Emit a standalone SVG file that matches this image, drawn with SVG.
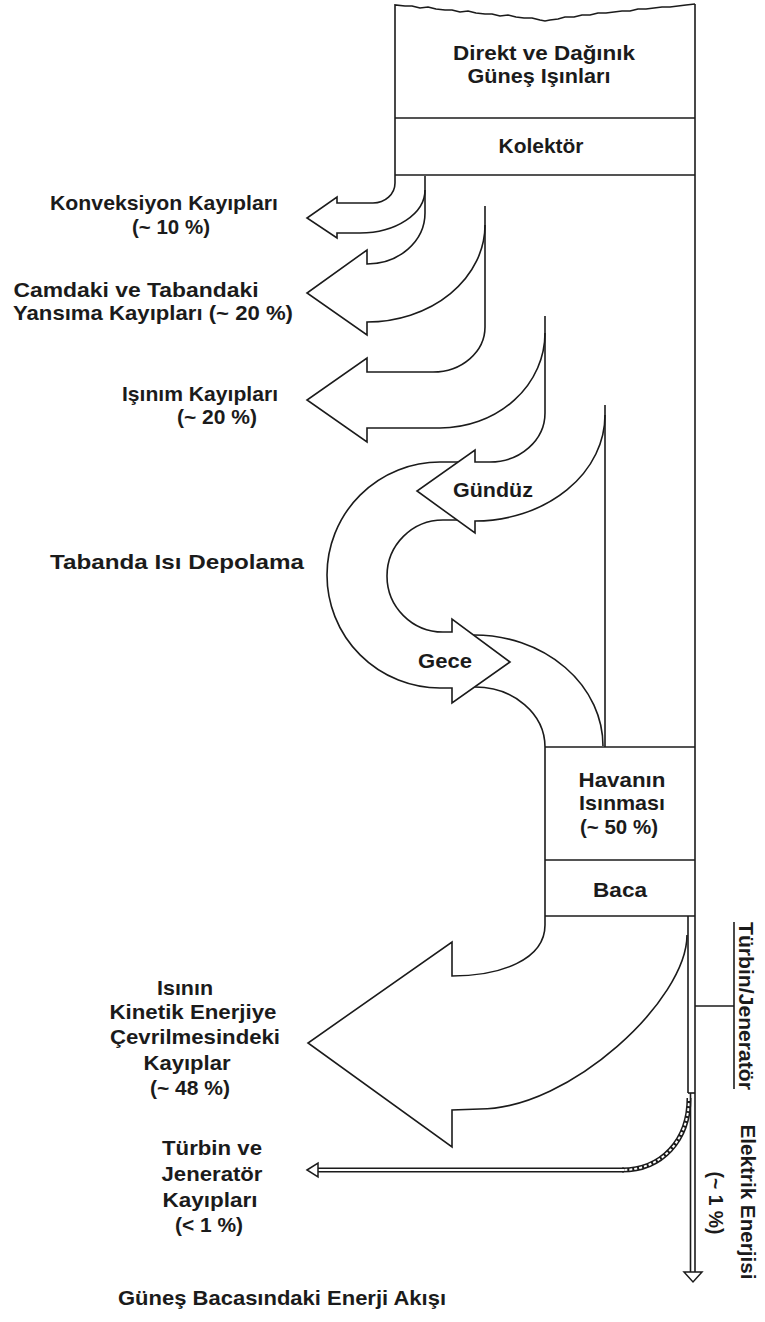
<svg xmlns="http://www.w3.org/2000/svg" width="765" height="1322" viewBox="0 0 765 1322">
<style>
.ln{fill:none;stroke:#1b1b1b;stroke-width:1.6;stroke-linejoin:miter}
.ar{fill:none;stroke:#1b1b1b;stroke-width:1.6;stroke-linejoin:miter}
.t{font-family:"Liberation Sans",Arial,sans-serif;font-weight:bold;font-size:21px;fill:#1b1b1b;text-anchor:middle}
</style>
<rect width="765" height="1322" fill="#fff"/>
<g id="solar-input">
<polyline class="ln" points="395,175 395,5 405,6 412,6 420,8 428,7 436,9 445,10 452,10 460,12 468,11 476,13 485,14 492,14 500,16 508,15 516,17 524,18 532,18 540,20 545,21 550,20 558,19 565,17 574,17 582,15 590,15 598,13 606,13 614,12 622,11 630,11 638,9 646,9 654,8 662,7 670,7 678,6 686,5 695,4"/>
<line class="ln" x1="395" y1="118" x2="695" y2="118"/>
<text class="t" x="544" y="60" textLength="182" lengthAdjust="spacingAndGlyphs">Direkt ve Dağınık</text>
<text class="t" x="539" y="83" textLength="143" lengthAdjust="spacingAndGlyphs">Güneş Işınları</text>
</g>
<g id="collector">
<line class="ln" x1="395" y1="175" x2="695" y2="175"/>
<text class="t" x="541" y="153" textLength="85" lengthAdjust="spacingAndGlyphs">Kolektör</text>
</g>
<g id="loss-convection">
<path class="ar" d="M395,175 L395,183 A22,20 0 0 1 373,203 L337,203 L337,197 L307,218 L337,238 L337,233 L360,233 A65,43 0 0 0 425,190"/>
<text class="t" x="164" y="210" textLength="228" lengthAdjust="spacingAndGlyphs">Konveksiyon Kayıpları</text>
<text class="t" x="171" y="234" textLength="78" lengthAdjust="spacingAndGlyphs">(~ 10 %)</text>
</g>
<g id="loss-reflection">
<path class="ar" d="M425,213 A58,51 0 0 1 367,264 L367,250 L307,293 L367,335 L367,322 A118,97 0 0 0 485,225"/>
<text class="t" x="136" y="297" textLength="245" lengthAdjust="spacingAndGlyphs">Camdaki ve Tabandaki</text>
<text class="t" x="153" y="320" textLength="280" lengthAdjust="spacingAndGlyphs">Yansıma Kayıpları (~ 20 %)</text>
</g>
<g id="loss-radiation">
<path class="ar" d="M485,327 A52,45 0 0 1 433,372 L367,372 L367,358 L307,400 L367,442 L367,428 L440,428 A105,95 0 0 0 545,333"/>
<text class="t" x="200" y="401" textLength="156" lengthAdjust="spacingAndGlyphs">Işınım Kayıpları</text>
<text class="t" x="217" y="424" textLength="80" lengthAdjust="spacingAndGlyphs">(~ 20 %)</text>
</g>
<g id="storage">
<path class="ar" d="M545,413 A55,49 0 0 1 490,462 L475,462 L475,450 L417,491 L475,533 L475,521 A130,106 0 0 0 605,415"/>
<path class="ar" d="M458,462 L440,462 A113,113 0 0 0 327,575 A113,113 0 0 0 440,688 L452,688 L452,703 L510,662 L452,619 L452,632 L443,632 A56,56 0 0 1 387,576 A56,56 0 0 1 443,520 L457,520"/>
<path class="ar" d="M474,635 A129,111 0 0 1 603,746"/>
<path class="ar" d="M475,687 A70,60 0 0 1 545,747"/>
<text class="t" x="493" y="497" textLength="80" lengthAdjust="spacingAndGlyphs">Gündüz</text>
<text class="t" x="177" y="569" textLength="254" lengthAdjust="spacingAndGlyphs">Tabanda Isı Depolama</text>
<text class="t" x="445" y="668" textLength="54" lengthAdjust="spacingAndGlyphs">Gece</text>
</g>
<g id="air-heating">
<line class="ln" x1="545" y1="747" x2="695" y2="747"/>
<line class="ln" x1="545" y1="747" x2="545" y2="916"/>
<line class="ln" x1="545" y1="860" x2="695" y2="860"/>
<text class="t" x="622" y="787" textLength="87" lengthAdjust="spacingAndGlyphs">Havanın</text>
<text class="t" x="622" y="810" textLength="86" lengthAdjust="spacingAndGlyphs">Isınması</text>
<text class="t" x="619" y="834" textLength="78" lengthAdjust="spacingAndGlyphs">(~ 50 %)</text>
</g>
<g id="chimney">
<line class="ln" x1="545" y1="916" x2="695" y2="916"/>
<text class="t" x="620" y="897" textLength="54" lengthAdjust="spacingAndGlyphs">Baca</text>
</g>
<g id="loss-kinetic">
<path class="ar" d="M545,916 L545,925 C545,960 500,976 452,976 L452,942 L308,1043 L452,1147 L452,1110 L480,1109 C570,1109 687,1000 687,935"/>
<text class="t" x="185" y="995" textLength="56" lengthAdjust="spacingAndGlyphs">Isının</text>
<text class="t" x="193" y="1019" textLength="167" lengthAdjust="spacingAndGlyphs">Kinetik Enerjiye</text>
<text class="t" x="195" y="1044" textLength="170" lengthAdjust="spacingAndGlyphs">Çevrilmesindeki</text>
<text class="t" x="187" y="1070" textLength="87" lengthAdjust="spacingAndGlyphs">Kayıplar</text>
<text class="t" x="190" y="1095" textLength="80" lengthAdjust="spacingAndGlyphs">(~ 48 %)</text>
</g>
<g id="turbine">
<line class="ln" x1="734" y1="922" x2="734" y2="1089"/>
<text class="t" transform="translate(739,1006) rotate(90)" textLength="168" lengthAdjust="spacingAndGlyphs">Türbin/Jeneratör</text>
</g>
<g id="loss-turbine">
<path d="M689,1098 C689,1140 662,1170 622,1170" fill="none" stroke="#1b1b1b" stroke-width="5"/>
<path d="M689,1098 C689,1140 662,1170 622,1170" fill="none" stroke="#fff" stroke-width="2" stroke-dasharray="3 2"/>
<line x1="624" y1="1170" x2="316" y2="1170" stroke="#1b1b1b" stroke-width="5"/>
<line x1="624" y1="1170" x2="316" y2="1170" stroke="#fff" stroke-width="2"/>
<polygon points="307,1170 318,1163 318,1177" fill="#fff" stroke="#1b1b1b" stroke-width="1.5"/>
<text class="t" x="212" y="1155" textLength="100" lengthAdjust="spacingAndGlyphs">Türbin ve</text>
<text class="t" x="212" y="1181" textLength="101" lengthAdjust="spacingAndGlyphs">Jeneratör</text>
<text class="t" x="210" y="1207" textLength="95" lengthAdjust="spacingAndGlyphs">Kayıpları</text>
<text class="t" x="209" y="1232" textLength="68" lengthAdjust="spacingAndGlyphs">(&lt; 1 %)</text>
</g>
<g id="electric">
<polygon points="684,1272 702,1272 693,1282" fill="#fff" stroke="#1b1b1b" stroke-width="1.5"/>
<text class="t" transform="translate(741,1202) rotate(90)" textLength="155" lengthAdjust="spacingAndGlyphs">Elektrik Enerjisi</text>
<text class="t" transform="translate(709,1203) rotate(90)" textLength="63" lengthAdjust="spacingAndGlyphs">(~ 1 %)</text>
</g>
<g id="connectors">
<line class="ln" x1="695" y1="4" x2="695" y2="1272"/>
<line class="ln" x1="425" y1="176" x2="425" y2="213"/>
<line class="ln" x1="485" y1="206" x2="485" y2="327"/>
<line class="ln" x1="545" y1="316" x2="545" y2="413"/>
<line class="ln" x1="605" y1="405" x2="605" y2="747"/>
<line class="ln" x1="688" y1="916" x2="688" y2="1093"/>
<line class="ln" x1="688" y1="1093" x2="695" y2="1093"/>
<line class="ln" x1="690.5" y1="1093" x2="690.5" y2="1272"/>
<line class="ln" x1="695" y1="1006" x2="734" y2="1006"/>
</g>
<text class="t" x="282" y="1305" textLength="328" lengthAdjust="spacingAndGlyphs">Güneş Bacasındaki Enerji Akışı</text>
</svg>
